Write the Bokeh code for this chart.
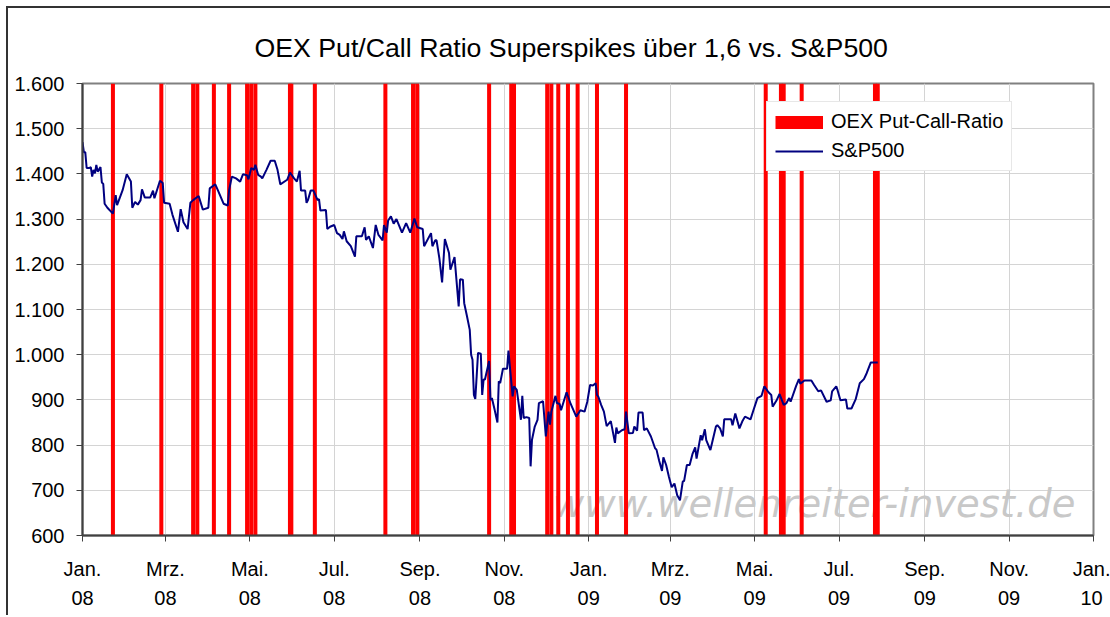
import pandas as pd
from bokeh.plotting import figure
from bokeh.models import FixedTicker, Legend, LegendItem, Label, Title, ColumnDataSource
from bokeh.layouts import column
from bokeh.embed import file_html
from bokeh.resources import INLINE

# ---------------- data ----------------
sp_dates = [
    # 2008
    "2008-01-01", "2008-01-02", "2008-01-03", "2008-01-04", "2008-01-06", "2008-01-07", "2008-01-08", "2008-01-09", "2008-01-10", "2008-01-11",
    "2008-01-12", "2008-01-14", "2008-01-15", "2008-01-16", "2008-01-17", "2008-01-19", "2008-01-23", "2008-01-25", "2008-01-26", "2008-01-30",
    "2008-02-02", "2008-02-05", "2008-02-06", "2008-02-08", "2008-02-10", "2008-02-12", "2008-02-13", "2008-02-15", "2008-02-19", "2008-02-21",
    "2008-02-22", "2008-02-26", "2008-02-28", "2008-02-29",
    "2008-03-04", "2008-03-06", "2008-03-10", "2008-03-12", "2008-03-14", "2008-03-17", "2008-03-19", "2008-03-21", "2008-03-25", "2008-03-28",
    "2008-04-01", "2008-04-02", "2008-04-06", "2008-04-08", "2008-04-12", "2008-04-15", "2008-04-16", "2008-04-18", "2008-04-21", "2008-04-24",
    "2008-04-26", "2008-04-29", "2008-04-30",
    "2008-05-02", "2008-05-04", "2008-05-05", "2008-05-07", "2008-05-09", "2008-05-10", "2008-05-13", "2008-05-16", "2008-05-19", "2008-05-21",
    "2008-05-23", "2008-05-28", "2008-05-30",
    "2008-06-02", "2008-06-04", "2008-06-06", "2008-06-07", "2008-06-10", "2008-06-11", "2008-06-12", "2008-06-14", "2008-06-16", "2008-06-19",
    "2008-06-20", "2008-06-21", "2008-06-25", "2008-06-26", "2008-06-28",
    "2008-07-01", "2008-07-03", "2008-07-05", "2008-07-07", "2008-07-08", "2008-07-10", "2008-07-13", "2008-07-16", "2008-07-17", "2008-07-21",
    "2008-07-23", "2008-07-24", "2008-07-26", "2008-07-29", "2008-07-31",
    "2008-08-02", "2008-08-05", "2008-08-06", "2008-08-08", "2008-08-09", "2008-08-11", "2008-08-13", "2008-08-15", "2008-08-19", "2008-08-22",
    "2008-08-25", "2008-08-28", "2008-08-30",
    "2008-09-03", "2008-09-04", "2008-09-09", "2008-09-10", "2008-09-12", "2008-09-13", "2008-09-15", "2008-09-17", "2008-09-19", "2008-09-22",
    "2008-09-23", "2008-09-26", "2008-09-29", "2008-09-30",
    "2008-10-02", "2008-10-03", "2008-10-05", "2008-10-07", "2008-10-08", "2008-10-09", "2008-10-10", "2008-10-11", "2008-10-12", "2008-10-13",
    "2008-10-15", "2008-10-16", "2008-10-17", "2008-10-18", "2008-10-21", "2008-10-22", "2008-10-23", "2008-10-25", "2008-10-27", "2008-10-28",
    "2008-10-29", "2008-10-31",
    "2008-11-03", "2008-11-04", "2008-11-05", "2008-11-07", "2008-11-08", "2008-11-10", "2008-11-13", "2008-11-14", "2008-11-15", "2008-11-17",
    "2008-11-19", "2008-11-20", "2008-11-21", "2008-11-23", "2008-11-25", "2008-11-26", "2008-11-29",
    "2008-12-01", "2008-12-03", "2008-12-04", "2008-12-05", "2008-12-08", "2008-12-09", "2008-12-11", "2008-12-12", "2008-12-16", "2008-12-19",
    "2008-12-23", "2008-12-26", "2008-12-29", "2008-12-31",
    # 2009
    "2009-01-02", "2009-01-04", "2009-01-06", "2009-01-07", "2009-01-08", "2009-01-10", "2009-01-12", "2009-01-14", "2009-01-17", "2009-01-20",
    "2009-01-21", "2009-01-22", "2009-01-25", "2009-01-27", "2009-01-28", "2009-01-30",
    "2009-02-02", "2009-02-03", "2009-02-05", "2009-02-06", "2009-02-09", "2009-02-10", "2009-02-12", "2009-02-15", "2009-02-18", "2009-02-19",
    "2009-02-21", "2009-02-23", "2009-02-24", "2009-02-26", "2009-02-28",
    "2009-03-02", "2009-03-04", "2009-03-06", "2009-03-08", "2009-03-10", "2009-03-11", "2009-03-13", "2009-03-15", "2009-03-17", "2009-03-19",
    "2009-03-20", "2009-03-23", "2009-03-24", "2009-03-26", "2009-03-27", "2009-03-30",
    "2009-04-03", "2009-04-04", "2009-04-06", "2009-04-08", "2009-04-09", "2009-04-14", "2009-04-15", "2009-04-17", "2009-04-20", "2009-04-22",
    "2009-04-24", "2009-04-28", "2009-04-30",
    "2009-05-03", "2009-05-06", "2009-05-08", "2009-05-11", "2009-05-13", "2009-05-14", "2009-05-17", "2009-05-19", "2009-05-22", "2009-05-24",
    "2009-05-26", "2009-05-27", "2009-05-31",
    "2009-06-02", "2009-06-03", "2009-06-06", "2009-06-11", "2009-06-13", "2009-06-16", "2009-06-18", "2009-06-22", "2009-06-25", "2009-06-26",
    "2009-06-29", "2009-06-30",
    "2009-07-02", "2009-07-06", "2009-07-07", "2009-07-10", "2009-07-13", "2009-07-16", "2009-07-19", "2009-07-21", "2009-07-24", "2009-07-29",
]

sp_values = [
    # 2008
    1470, 1448, 1448, 1413, 1413, 1415, 1394, 1409, 1401, 1420,
    1405, 1415, 1381, 1378, 1334, 1325, 1312, 1353, 1331, 1364,
    1399, 1383, 1325, 1338, 1332, 1342, 1366, 1348, 1348, 1363,
    1346, 1385, 1380, 1336,
    1334, 1310, 1272, 1322, 1293, 1278, 1336, 1342, 1351, 1321,
    1325, 1368, 1377, 1363, 1334, 1330, 1364, 1394, 1390, 1383,
    1399, 1397, 1388,
    1413, 1409, 1420, 1398, 1394, 1390, 1409, 1429, 1429, 1409,
    1377, 1387, 1403,
    1390, 1383, 1407, 1363, 1363, 1336, 1342, 1363, 1363, 1342,
    1344, 1319, 1320, 1278, 1283,
    1287, 1269, 1265, 1256, 1273, 1251, 1240, 1217, 1262, 1262,
    1282, 1254, 1262, 1236, 1287,
    1265, 1253, 1287, 1270, 1297, 1306, 1290, 1300, 1270, 1291,
    1270, 1301, 1282,
    1278, 1240, 1269, 1240, 1253, 1253, 1214, 1160, 1256, 1225,
    1188, 1216, 1107, 1167,
    1166, 1114, 1085, 1055, 1000, 989, 911, 902, 952, 1004,
    1002, 911, 945, 945, 986, 900, 904, 878, 850, 941,
    937, 969,
    969, 1009, 974, 908, 930, 922, 856, 909, 860, 862,
    860, 753, 812, 841, 856, 893, 897,
    819, 874, 845, 874, 909, 893, 891, 877, 917, 891,
    863, 877, 874, 896,
    # 2009
    933, 932, 937, 911, 907, 889, 874, 842, 853, 805,
    839, 826, 833, 835, 874, 826,
    827, 841, 832, 872, 872, 833, 837, 819, 793, 790,
    765, 743, 773, 756, 730,
    707, 715, 689, 678, 719, 721, 756, 756, 780, 795,
    770, 822, 811, 835, 811, 789,
    841, 844, 837, 819, 857, 857, 844, 870, 837, 852,
    863, 857, 876,
    904, 909, 930, 917, 911, 885, 900, 913, 889, 893,
    904, 896, 931,
    946, 936, 943, 943, 933, 919, 921, 896, 899, 919,
    930, 921,
    899, 901, 881, 881, 901, 937, 946, 959, 983, 983,
]

spike_dates = [
    "2008-01-23", "2008-02-27", "2008-03-21", "2008-03-24", "2008-04-05", "2008-04-16",
    "2008-04-29", "2008-05-02", "2008-05-05", "2008-05-30", "2008-05-31", "2008-06-17",
    "2008-08-07", "2008-08-27", "2008-08-30", "2008-10-21", "2008-11-06", "2008-11-08",
    "2008-12-02", "2008-12-05", "2008-12-10", "2008-12-17", "2008-12-24", "2009-01-07",
    "2009-01-28", "2009-05-09", "2009-05-20", "2009-05-22", "2009-06-04", "2009-07-27",
    "2009-07-29",
]

x_tick_dates = ["2008-01-01", "2008-03-01", "2008-05-01", "2008-07-01", "2008-09-01", "2008-11-01",
                "2009-01-01", "2009-03-01", "2009-05-01", "2009-07-01", "2009-09-01", "2009-11-01",
                "2010-01-01"]
x_tick_labels = ["Jan.\n08", "Mrz.\n08", "Mai.\n08", "Jul.\n08", "Sep.\n08", "Nov.\n08",
                 "Jan.\n09", "Mrz.\n09", "Mai.\n09", "Jul.\n09", "Sep.\n09", "Nov.\n09",
                 "Jan.\n10"]
y_ticks = [600, 700, 800, 900, 1000, 1100, 1200, 1300, 1400, 1500, 1600]
y_tick_labels = ["600", "700", "800", "900", "1.000", "1.100", "1.200", "1.300", "1.400", "1.500", "1.600"]

title_text = "OEX Put/Call Ratio Superspikes über 1,6 vs. S&P500"
legend_labels = ["OEX Put-Call-Ratio", "S&P500"]
watermark = "www.wellenreiter-invest.de"


def ms(d):
    return int(pd.Timestamp(d).timestamp() * 1000)


DAY = 86400000
FONT = "Liberation Sans"
NAN = float("nan")

x_ticks = [ms(d) for d in x_tick_dates]

p = figure(
    frame_width=1011, frame_height=452,
    min_border_left=74, min_border_right=17, min_border_top=75, min_border_bottom=80,
    x_range=(ms("2008-01-01"), ms("2010-01-01")), y_range=(600, 1600),
    output_backend="svg", toolbar_location=None,
    background_fill_color="white", border_fill_color="white",
)
p.title = Title(text=title_text, align="left", offset=172, standoff=37, vertical_align="top",
                text_font=FONT, text_font_size="26.7px", text_font_style="normal",
                text_color="black")

# spikes
src_sp = ColumnDataSource(dict(x=[ms(d) for d in spike_dates]))
p.vbar(x="x", width=2.9 * DAY, bottom=600, top=1600, source=src_sp,
       fill_color="#FF0000", line_color=None)

# S&P line
src_line = ColumnDataSource(dict(x=[ms(d) for d in sp_dates], y=sp_values))
line_r = p.line("x", "y", source=src_line, line_color="#000080", line_width=2)

# legend proxy for bars (invisible in plot)
proxy = p.line(x=[NAN, NAN], y=[NAN, NAN], line_color="#FF0000", line_width=13)

legend = Legend(items=[LegendItem(label=legend_labels[0], renderers=[proxy]),
                       LegendItem(label=legend_labels[1], renderers=[line_r])],
                location=(684, 364), orientation="vertical",
                label_text_font=FONT, label_text_font_size="20px", label_text_color="black",
                glyph_width=48, glyph_height=22, spacing=6, padding=8, margin=0,
                label_standoff=8,
                border_line_color="#D0D0D0", border_line_width=1,
                background_fill_color="white", background_fill_alpha=1.0)
p.add_layout(legend)

# watermark
p.add_layout(Label(x=ms("2008-12-06"), y=670, text=watermark, text_font="DejaVu Sans",
                   text_font_style="italic", text_font_size="38.5px", text_color="#C8C8C8",
                   text_baseline="alphabetic", level="underlay"))

# axes
for ax in (p.xaxis[0], p.yaxis[0]):
    ax.axis_line_color = "#404040"
    ax.axis_line_width = 2
    ax.major_tick_line_color = "#404040"
    ax.major_tick_line_width = 1
    ax.major_tick_in = 0
    ax.major_tick_out = 6
    ax.minor_tick_line_color = None
    ax.major_label_text_font = FONT
    ax.major_label_text_font_size = "20px"
    ax.major_label_text_color = "black"

p.yaxis[0].ticker = FixedTicker(ticks=y_ticks)
p.yaxis[0].major_label_overrides = {t: l for t, l in zip(y_ticks, y_tick_labels)}
p.yaxis[0].major_label_standoff = 12

p.xaxis[0].ticker = FixedTicker(ticks=x_ticks)
p.xaxis[0].major_label_overrides = {t: l for t, l in zip(x_ticks, x_tick_labels)}
p.xaxis[0].major_label_standoff = 16
p.xaxis[0].major_label_text_line_height = 1.35

p.xgrid.ticker = FixedTicker(ticks=x_ticks)
p.ygrid.ticker = FixedTicker(ticks=y_ticks)
p.xgrid.grid_line_color = "#D4D4D4"
p.ygrid.grid_line_color = "#D4D4D4"
p.xgrid.grid_line_width = 1
p.ygrid.grid_line_width = 1

p.outline_line_color = "#808080"
p.outline_line_width = 2

layout = column(p, styles={"border-left": "2px solid #333333", "border-top": "2px solid #333333",
                           "margin-left": "6px", "margin-top": "6px"})

open("out.html", "w").write(file_html(layout, INLINE))
